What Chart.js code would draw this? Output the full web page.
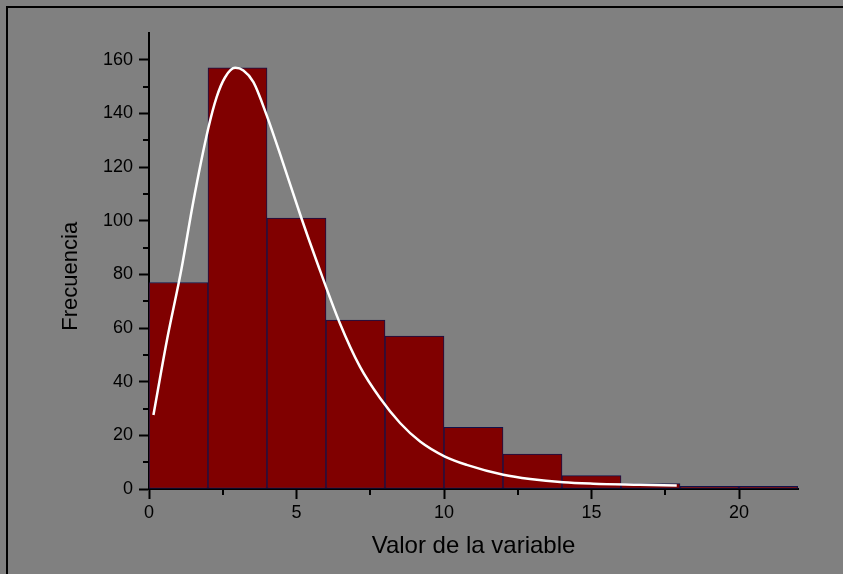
<!DOCTYPE html>
<html>
<head>
<meta charset="utf-8">
<script src="https://cdn.jsdelivr.net/npm/chart.js@4"></script>
<style>
  body { margin: 0; background: #808080; }
  canvas { display: block; }
</style>
</head>
<body>
<canvas id="histo" width="843" height="574"></canvas>
<script>
// centros de clase (ancho 2) y frecuencias
const binCenters = [1, 3, 5, 7, 9, 11, 13, 15, 17, 19, 21];
const frequencies = [77, 157, 101, 63, 57, 23, 13, 5, 2, 1, 1];

// curva ajustada
const curveX = [0.15, 0.6, 1.1, 1.5, 2.0, 2.29, 2.58, 2.92, 3.2, 3.54, 3.99, 4.5, 5.15, 5.68, 6.47, 7.15, 7.83, 8.51, 9.19, 10.03, 10.77, 12.01, 12.92, 14.04, 15.06, 16.64, 17.89];
const curveY = [27.6, 55, 82, 107, 134, 146, 153.5, 157, 156, 151.7, 139.3, 123, 101.5, 85, 61.8, 45.6, 33.9, 24.6, 17.7, 12.1, 9.0, 5.3, 3.7, 2.5, 2.0, 1.6, 1.3];

const minorX = [2.5, 7.5, 12.5, 17.5];
const minorY = [10, 30, 50, 70, 90, 110, 130, 150];

const font = "'Liberation Sans', Arial, sans-serif";

// fondo gris y marco
const frame = {
    id: 'frame',
    beforeDraw(chart) {
        const c = chart.ctx;
        c.save();
        c.fillStyle = '#808080';
        c.fillRect(0, 0, chart.width, chart.height);
        c.fillStyle = '#000';
        c.fillRect(6, 6, chart.width - 6, 2);
        c.fillRect(6, 6, 2, chart.height - 6);
        c.restore();
    }
};

// marcas menores
const minorTicks = {
    id: 'minorTicks',
    afterDraw(chart) {
        const c = chart.ctx;
        const x = chart.scales.x, y = chart.scales.y;
        c.save();
        c.strokeStyle = '#000';
        c.lineWidth = 2;
        c.beginPath();
        minorX.forEach(v => {
            const px = Math.round(x.getPixelForValue(v));
            c.moveTo(px, y.bottom);
            c.lineTo(px, y.bottom + 6);
        });
        minorY.forEach(v => {
            const py = Math.round(y.getPixelForValue(v));
            c.moveTo(x.left, py);
            c.lineTo(x.left - 6, py);
        });
        c.stroke();
        c.restore();
    }
};

const ctx = document.getElementById('histo').getContext('2d');

new Chart(ctx, {
    type: 'bar',
    data: {
        datasets: [
            {
                type: 'line',
                data: curveX.map((v, i) => ({ x: v, y: curveY[i] })),
                borderColor: '#ffffff',
                borderWidth: 2.5,
                pointRadius: 0,
                fill: false,
                cubicInterpolationMode: 'monotone',
                order: 0
            },
            {
                data: binCenters.map((v, i) => ({ x: v, y: frequencies[i] })),
                backgroundColor: '#800000',
                borderColor: '#12124a',
                borderWidth: 1,
                borderSkipped: false,
                barPercentage: 1,
                categoryPercentage: 1,
                order: 1
            }
        ]
    },
    options: {
        responsive: false,
        animation: false,
        layout: { padding: { left: 0, top: 33, right: 45, bottom: 0 } },
        plugins: {
            legend: { display: false },
            tooltip: { enabled: false }
        },
        scales: {
            x: {
                type: 'linear',
                min: 0,
                max: 22,
                offset: false,
                afterFit: s => { s.height = 85; },
                grid: {
                    offset: false,
                    drawOnChartArea: false,
                    tickLength: 10,
                    tickWidth: 2,
                    tickColor: '#000'
                },
                border: { color: '#000', width: 2 },
                ticks: {
                    stepSize: 5,
                    includeBounds: false,
                    color: '#000',
                    padding: 3,
                    maxRotation: 0,
                    font: { family: font, size: 18 }
                },
                title: {
                    display: true,
                    text: 'Valor de la variable',
                    color: '#000',
                    font: { family: font, size: 24 },
                    padding: { top: 0, bottom: 13 }
                }
            },
            y: {
                min: 0,
                max: 170,
                afterFit: s => { s.width = 149; },
                grid: {
                    drawOnChartArea: false,
                    tickLength: 10,
                    tickWidth: 2,
                    tickColor: '#000'
                },
                border: { color: '#000', width: 2 },
                ticks: {
                    stepSize: 20,
                    includeBounds: false,
                    color: '#000',
                    padding: 6,
                    font: { family: font, size: 18 }
                },
                title: {
                    display: true,
                    text: 'Frecuencia     ',
                    color: '#000',
                    font: { family: font, size: 22 },
                    padding: { top: 58, bottom: 0 }
                }
            }
        }
    },
    plugins: [frame, minorTicks]
});
</script>
</body>
</html>
